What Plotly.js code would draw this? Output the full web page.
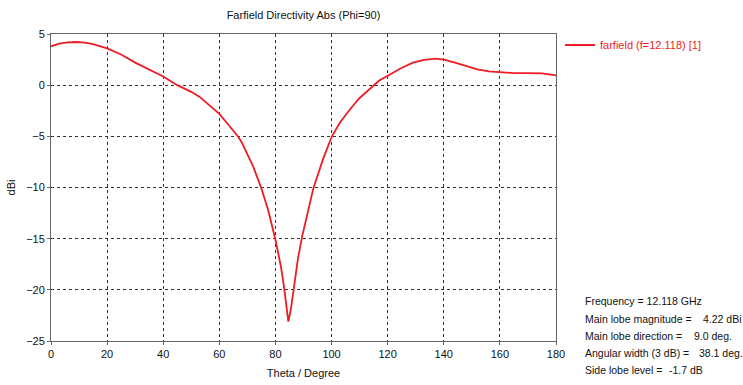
<!DOCTYPE html>
<html>
<head>
<meta charset="utf-8">
<script src="https://cdn.plot.ly/plotly-3.0.1.min.js"></script>
<style>html,body{margin:0;padding:0;background:#fff}#chart{width:743px;height:385px}</style>
</head>
<body>
<div id="chart"></div>
<script>
const theta = [0, 3, 6, 9, 12, 15, 20, 25, 30, 35, 40, 45, 50, 53, 56, 60, 63, 66.8, 68, 70, 72, 75, 77.4, 80, 82, 83, 84, 84.6, 85.5, 86.5, 88, 89.5, 91.7, 93.5, 97, 100, 103, 106.6, 110, 114.9, 117, 120.2, 124.4, 129, 133, 137, 140, 144, 148, 152, 156, 160, 165, 170, 175, 180];
const dbi = [3.8, 4.05, 4.18, 4.22, 4.15, 4.0, 3.6, 3.0, 2.2, 1.5, 0.85, 0.0, -0.65, -1.15, -1.85, -2.8, -3.8, -5.07, -5.6, -6.7, -7.9, -10.1, -12.2, -15.1, -17.8, -19.6, -21.8, -23.1, -21.9, -19.8, -17.0, -14.8, -12.2, -10.1, -7.2, -5.07, -3.65, -2.35, -1.25, 0.0, 0.45, 0.95, 1.6, 2.2, 2.48, 2.6, 2.5, 2.2, 1.85, 1.55, 1.35, 1.25, 1.18, 1.17, 1.15, 0.95];
const xTicks = [0, 20, 40, 60, 80, 100, 120, 140, 160, 180];
const yTicks = [-25, -20, -15, -10, -5, 0, 5];
const infoLabels = ["Frequency = 12.118 GHz", "Main lobe magnitude =", "Main lobe direction =", "Angular width (3 dB) =", "Side lobe level ="];
const infoValues = ["", "4.22 dBi", "9.0 deg.", "38.1 deg.", "-1.7 dB"];
const infoValueX = [0, 701, 692, 697, 667];
const infoY = [301, 319, 336, 353, 370];

const FONT = "Liberation Sans, Arial, sans-serif";
const red = "rgb(237,28,36)";

const annotations = [];
infoLabels.forEach((t, i) => {
  annotations.push({xref: "paper", yref: "paper", x: (583 - 51) / 505, y: 1 - (infoY[i] - 34) / 307,
    xanchor: "left", yanchor: "middle", text: t, showarrow: false, font: {family: FONT, size: 10.5, color: "#111"}});
  if (infoValues[i]) {
    annotations.push({xref: "paper", yref: "paper", x: (infoValueX[i] - 51) / 505, y: 1 - (infoY[i] - 34) / 307,
      xanchor: "left", yanchor: "middle", text: infoValues[i], showarrow: false, font: {family: FONT, size: 10.5, color: "#111"}});
  }
});

const trace = {x: theta, y: dbi, type: "scatter", mode: "lines", name: "farfield (f=12.118) [1]",
  line: {color: red, width: 1.8}};

const axisCommon = {showline: true, linecolor: "#666", linewidth: 1, mirror: true,
  showgrid: true, gridcolor: "#333", griddash: "dot", gridwidth: 1, zeroline: false,
  ticks: "outside", ticklen: 3, tickcolor: "#666", tickfont: {family: FONT, size: 11, color: "#111"}};

const layout = {
  width: 743, height: 385,
  margin: {l: 51, r: 187, t: 34, b: 44},
  paper_bgcolor: "#fff", plot_bgcolor: "#fff",
  title: {text: "Farfield Directivity Abs (Phi=90)", x: 0.5 * (51 + 556) / 743, xanchor: "center", y: 1 - 15 / 385, yanchor: "middle",
    font: {family: FONT, size: 11, color: "#111"}},
  xaxis: Object.assign({}, axisCommon, {range: [0, 180], tickvals: xTicks,
    title: {text: "Theta / Degree", standoff: 10, font: {family: FONT, size: 11, color: "#111"}}}),
  yaxis: Object.assign({}, axisCommon, {range: [-25, 5], tickvals: yTicks,
    title: {text: "dBi", standoff: 8, font: {family: FONT, size: 11, color: "#111"}}}),
  showlegend: true,
  legend: {x: (560 - 51) / 505, y: 1 - (45 - 34) / 307, xanchor: "left", yanchor: "middle",
    font: {family: FONT, size: 11, color: red}, bgcolor: "rgba(0,0,0,0)", borderwidth: 0},
  annotations: annotations
};

Plotly.newPlot("chart", [trace], layout, {displayModeBar: false, staticPlot: true});
</script>
</body>
</html>
